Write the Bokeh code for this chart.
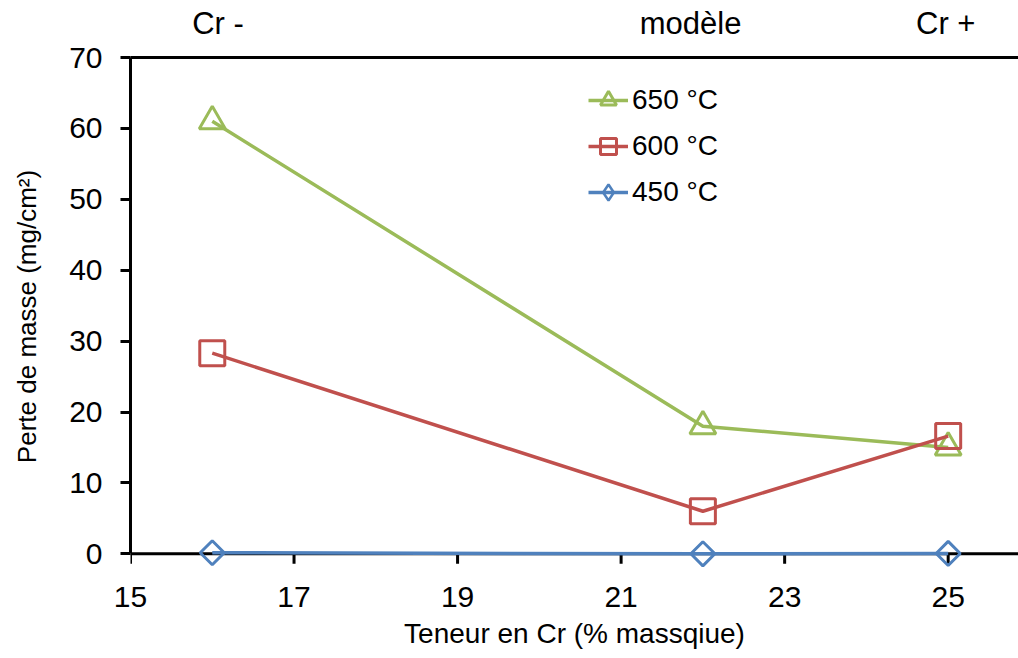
import math
from bokeh.plotting import figure
from bokeh.models import (LinearAxis, FixedTicker, Range1d, Legend, LegendItem, Span)
from bokeh.embed import file_html
from bokeh.resources import INLINE

# Data
cr_content = [16, 22, 25]
loss_650 = [61.0, 18.0, 15.0]
loss_600 = [28.3, 6.0, 16.6]
loss_450 = [0.15, 0.0, 0.05]
series_labels = ["650 °C", "600 °C", "450 °C"]
x_ticks = [15, 17, 19, 21, 23, 25]
y_ticks = [0, 10, 20, 30, 40, 50, 60, 70]
top_tick_pos = [16.07, 21.85, 24.97]
top_tick_labels = ["Cr -", "modèle", "Cr +"]

GREEN = "#9BBB59"
RED = "#C0504D"
BLUE = "#4F81BD"
FONT = "Liberation Sans"

Y_MIN, Y_MAX = -3.06, 70
FRAME_H = 658 - 57 - 83
TICK_PX = 10

p = figure(width=1018, height=658, output_backend="svg", toolbar_location=None,
           x_range=Range1d(15, 25.86), y_range=Range1d(Y_MIN, Y_MAX),
           x_axis_location="below", y_axis_location="left")
p.min_border_left = 130
p.min_border_top = 57
p.min_border_bottom = 83
p.min_border_right = 0
p.outline_line_color = None
p.background_fill_color = "white"
p.border_fill_color = "white"
p.xgrid.visible = False
p.ygrid.visible = False

for ax in (p.xaxis[0], p.yaxis[0]):
    ax.axis_line_color = "black"
    ax.axis_line_width = 3
    ax.major_tick_line_color = "black"
    ax.major_tick_line_width = 3
    ax.major_tick_out = TICK_PX
    ax.major_tick_in = 0
    ax.minor_tick_line_color = None
    ax.major_label_text_font = FONT
    ax.major_label_text_font_size = "30px"
    ax.major_label_text_color = "black"
    ax.axis_label_text_font = FONT
    ax.axis_label_text_font_style = "normal"
    ax.axis_label_text_color = "black"

# x axis: labels at frame bottom, line + ticks drawn at y = 0
xa = p.xaxis[0]
xa.ticker = FixedTicker(ticks=x_ticks)
xa.axis_line_color = None
xa.major_tick_line_color = None
xa.major_label_standoff = 1
xa.axis_label = "Teneur en Cr (% massqiue)"
xa.axis_label_text_font_size = "28px"
xa.axis_label_standoff = 8

ya = p.yaxis[0]
ya.ticker = FixedTicker(ticks=y_ticks)
ya.bounds = (0, Y_MAX)
ya.axis_label = "Perte de masse (mg/cm²)"
ya.axis_label_text_font_size = "26px"
ya.major_label_standoff = 18
ya.axis_label_standoff = 24

zero_line = Span(location=0, dimension="width", line_color="black",
                 line_width=3, level="underlay")
p.add_layout(zero_line)
tick_len = TICK_PX * (Y_MAX - Y_MIN) / FRAME_H
p.segment(x0=x_ticks, y0=[0] * len(x_ticks), x1=x_ticks,
          y1=[-tick_len] * len(x_ticks), line_color="black", line_width=3,
          level="underlay")

top = LinearAxis(ticker=FixedTicker(ticks=top_tick_pos),
                 major_label_overrides={k: v for k, v in zip(top_tick_pos, top_tick_labels)})
top.axis_line_color = "black"
top.axis_line_width = 3
top.major_tick_line_color = None
top.minor_tick_line_color = None
top.major_label_text_font = FONT
top.major_label_text_font_size = "31px"
top.major_label_text_color = "black"
top.major_label_standoff = 11
p.add_layout(top, "above")

renderers = []
for ys, col, marker, sz, ang in ((loss_650, GREEN, "triangle", 26, 0),
                                 (loss_600, RED, "square", 25, 0),
                                 (loss_450, BLUE, "square", 17, math.pi / 4)):
    ln = p.line(cr_content, ys, line_color=col, line_width=3.5)
    sc = p.scatter(cr_content, ys, marker=marker, size=sz, angle=ang,
                   line_color=col, line_width=3, fill_color=None)
    renderers.append([ln, sc])

# legend-only diamond proxy for the 450 °C series (a single NaN point, never drawn)
nan = float("nan")
proxy = p.scatter(x=[nan], y=[nan], marker="diamond", size=25, line_color=BLUE,
                  line_width=2.5, fill_color=None)
renderers[2] = [renderers[2][0], proxy]

items = [LegendItem(label=lab, renderers=r)
         for lab, r in zip(series_labels, renderers)]
legend = Legend(items=items, location=(458, 361), border_line_color=None,
                background_fill_alpha=0, label_text_font=FONT,
                label_text_font_size="28px", label_text_color="black",
                glyph_width=40, glyph_height=44, label_height=44,
                spacing=2, padding=0, margin=0, label_standoff=4)
p.add_layout(legend, "center")

open("out.html", "w").write(file_html(p, INLINE))
